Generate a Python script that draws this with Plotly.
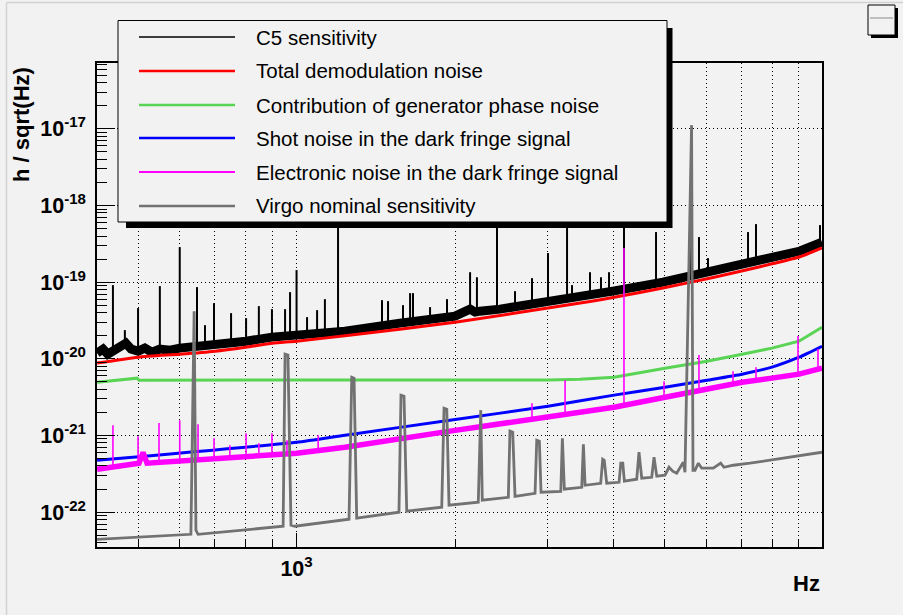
import plotly.graph_objects as go

# ---------------- data ----------------
# C5 sensitivity: centre of the noisy band
c5_f = [418, 429, 438, 448, 462, 474, 485, 500, 515, 531, 550, 575, 600, 628, 656, 700, 802, 898,
        1000, 1236, 1572, 2000, 2136, 2183, 2230, 2434, 3030, 3609, 3990, 4966, 6180, 7172, 8035, 9042, 9954]
c5_h = [1.19e-20, 1.34e-20, 1.15e-20, 1.26e-20, 1.46e-20, 1.60e-20, 1.34e-20, 1.26e-20, 1.38e-20, 1.22e-20,
        1.34e-20, 1.30e-20, 1.38e-20, 1.42e-20, 1.46e-20, 1.51e-20, 1.70e-20, 1.92e-20, 2.04e-20, 2.30e-20,
        2.92e-20, 3.61e-20, 4.45e-20, 4.07e-20, 4.19e-20, 4.45e-20, 5.66e-20, 6.58e-20, 7.64e-20, 1.00e-19,
        1.40e-19, 1.83e-19, 2.12e-19, 2.55e-19, 3.33e-19]
# C5 sensitivity: spectral lines (frequency, band level, top)
c5_line_f = [448, 472, 500, 550, 600, 647, 670, 697, 751, 802, 848, 898, 951, 972, 1000, 1047, 1094, 1132,
             1199, 1453, 1492, 1593, 1643, 1664, 1793, 1931, 2136, 2201, 2403, 2600, 2800, 3003, 3264, 3336,
             3609, 3787, 3922, 4187, 4817, 5589, 5812, 6046, 7203, 7459, 9867]
c5_line_lo = [1.26e-20, 1.46e-20, 1.26e-20, 1.34e-20, 1.38e-20, 1.46e-20, 1.46e-20, 1.51e-20, 1.60e-20,
              1.70e-20, 1.80e-20, 1.92e-20, 2.00e-20, 2.00e-20, 2.04e-20, 2.10e-20, 2.16e-20, 2.23e-20,
              2.30e-20, 2.70e-20, 2.75e-20, 2.92e-20, 3.01e-20, 3.05e-20, 3.30e-20, 3.50e-20, 4.07e-20,
              4.07e-20, 4.45e-20, 4.87e-20, 5.17e-20, 5.50e-20, 6.01e-20, 6.19e-20, 6.58e-20, 7.20e-20,
              7.42e-20, 7.64e-20, 9.72e-20, 1.20e-19, 1.27e-19, 1.35e-19, 1.83e-19, 1.94e-19, 3.20e-19]
c5_line_hi = [9.16e-20, 2.37e-20, 4.59e-20, 8.89e-20, 2.87e-19, 8.63e-20, 2.75e-20, 5.33e-20, 3.95e-20,
              3.40e-20, 4.87e-20, 4.45e-20, 4.45e-20, 7.42e-20, 1.44e-19, 3.50e-20, 4.32e-20, 6.01e-20,
              1.0e-18, 5.83e-20, 5.66e-20, 5.02e-20, 7.20e-20, 7.20e-20, 4.73e-20, 6.01e-20, 1.35e-19,
              1.16e-19, 1.0e-18, 7.64e-20, 1.13e-19, 2.40e-19, 1.0e-18, 9.16e-20, 1.35e-19, 1.16e-19,
              1.35e-19, 1.0e-18, 4.51e-19, 1.50e-18, 3.88e-19, 2.06e-19, 4.51e-19, 5.73e-19, 5.56e-19]

# Total demodulation noise
demod_f = [418, 500, 600, 700, 800, 900, 1000, 1236, 2000, 3609, 3990, 4966, 6180, 7172, 8035, 9042, 9954]
demod_h = [8.8e-21, 1.05e-20, 1.15e-20, 1.26e-20, 1.42e-20, 1.60e-20, 1.70e-20, 2.0e-20, 3.01e-20, 5.6e-20,
           6.3e-20, 8.4e-20, 1.15e-19, 1.45e-19, 1.75e-19, 2.15e-19, 2.8e-19]

# Contribution of generator phase noise
gen_f = [418, 498, 502, 1956, 3000, 3454, 4009, 5010, 6020, 7019, 7999, 9001, 9954]
gen_h = [4.96e-21, 5.60e-21, 5.27e-21, 5.27e-21, 5.30e-21, 5.43e-21, 5.76e-21, 7.56e-21, 9.32e-21, 1.15e-20,
         1.38e-20, 1.70e-20, 2.59e-20]

# Shot noise in the dark fringe signal
shot_f = [418, 1000, 1236, 1956, 3003, 4009, 5010, 6020, 7019, 7999, 9001, 9954]
shot_h = [4.75e-22, 8.17e-22, 1.01e-21, 1.58e-21, 2.41e-21, 3.36e-21, 4.27e-21, 5.27e-21, 6.31e-21,
          7.79e-21, 1.05e-20, 1.46e-20]

# Electronic noise in the dark fringe signal: band centre
elec_f = [418, 462, 502, 511, 520, 1000, 1236, 1956, 3003, 4009, 5010, 6020, 7019, 7999, 9001, 9954]
elec_h = [3.63e-22, 4.0e-22, 4.35e-22, 6.0e-22, 4.35e-22, 5.87e-22, 7.03e-22, 1.14e-21, 1.73e-21,
          2.34e-21, 3.16e-21, 4.02e-21, 4.96e-21, 5.60e-21, 6.31e-21, 7.56e-21]
# Electronic noise: spectral lines (frequency, band level, top)
elec_line_f = [448, 500, 548, 600, 650, 697, 747, 802, 848, 898, 959, 1099, 2800, 3236, 4187, 4988,
               5812, 6745, 7459, 8962, 9781]
elec_line_lo = [3.85e-22, 4.22e-22, 4.48e-22, 4.62e-22, 4.75e-22, 4.90e-22, 5.05e-22, 5.20e-22, 5.36e-22,
                5.53e-22, 5.70e-22, 6.23e-22, 1.63e-21, 1.90e-21, 2.56e-21, 3.16e-21, 3.90e-21, 4.67e-21,
                5.27e-21, 6.31e-21, 7.11e-21]
elec_line_hi = [1.36e-21, 9.78e-22, 1.45e-21, 1.58e-21, 1.40e-21, 9.21e-22, 7.47e-22, 1.07e-21, 7.93e-22,
                1.07e-21, 8.68e-22, 1.01e-21, 2.64e-21, 5.27e-21, 2.79e-19, 5.11e-21, 1.12e-20, 6.90e-21,
                7.79e-21, 1.98e-20, 1.34e-20]

# Virgo nominal sensitivity
virgo_f = [418, 628, 630, 639, 644, 650, 943, 951, 963, 976, 993, 1258, 1273, 1286, 1301, 1565, 1579, 1600,
           1619, 1887, 1906, 1929, 1948, 2214, 2238, 2253, 2525, 2543, 2574, 2600, 2838, 2859, 2892, 2913,
           3176, 3198, 3226, 3481, 3506, 3532, 3782, 3815, 3841, 3882, 4098, 4129, 4165, 4194, 4427, 4471,
           4525, 4727, 4775, 4832, 5010, 5098, 5181, 5272, 5427, 5467, 5627, 5662, 5712, 5796, 5882, 6188,
           6391, 6484, 6753, 7265, 7700, 8405, 9954]
virgo_h = [4.42e-23, 5.14e-23, 5.14e-23, 4.19e-20, 5.80e-23, 5.14e-23, 6.54e-23, 1.15e-20, 1.12e-20, 6.74e-23,
           6.54e-23, 8.07e-23, 5.76e-21, 5.60e-21, 8.32e-23, 9.96e-23, 3.36e-21, 3.26e-21, 1.03e-22, 1.16e-22,
           2.27e-21, 2.20e-21, 1.23e-22, 1.35e-22, 2.14e-21, 1.43e-22, 1.56e-22, 1.14e-21, 1.10e-21, 1.61e-22,
           1.76e-22, 8.68e-22, 8.42e-22, 1.82e-22, 1.87e-22, 9.21e-22, 1.99e-22, 2.11e-22, 7.69e-22, 2.24e-22,
           2.38e-22, 4.90e-22, 4.75e-22, 2.38e-22, 2.45e-22, 4.35e-22, 4.35e-22, 2.53e-22, 2.69e-22, 6.05e-22,
           2.77e-22, 2.85e-22, 5.20e-22, 2.94e-22, 3.03e-22, 3.85e-22, 3.42e-22, 3.22e-22, 4.48e-22, 3.32e-22,
           1.12e-17, 3.52e-22, 3.52e-22, 4.35e-22, 3.74e-22, 3.74e-22, 4.35e-22, 3.85e-22, 4.09e-22, 4.35e-22,
           4.62e-22, 5.05e-22, 6.05e-22]

# axis ticks
x_major = [1000]
x_major_text = ["10<sup>3</sup>"]
x_minor = [500, 600, 700, 800, 900, 2000, 3000, 4000, 5000, 6000, 7000, 8000, 9000]
y_exps = [-22, -21, -20, -19, -18, -17]

legend_names = ["C5 sensitivity", "Total demodulation noise", "Contribution of generator phase noise",
                "Shot noise in the dark fringe signal", "Electronic noise in the dark fringe signal",
                "Virgo nominal sensitivity"]

# ---------------- styles ----------------
C_BLACK = "#000000"
C_RED = "#ff0000"
C_GREEN = "#59d454"
C_BLUE = "#0000ff"
C_MAG = "#ff00ff"
C_GREY = "#727272"
BG = "#f2f2f2"

def segments(fs, lo, hi):
    xs, ys = [], []
    for f, a, b in zip(fs, lo, hi):
        xs += [f, f, None]
        ys += [a, b, None]
    return xs, ys

fig = go.Figure()
sx, sy = segments(c5_line_f, c5_line_lo, c5_line_hi)
fig.add_trace(go.Scatter(x=sx, y=sy, mode="lines", line=dict(color=C_BLACK, width=2), showlegend=False))
fig.add_trace(go.Scatter(x=c5_f, y=c5_h, mode="lines", line=dict(color=C_BLACK, width=9), name=legend_names[0], showlegend=False))
fig.add_trace(go.Scatter(x=demod_f, y=demod_h, mode="lines", line=dict(color=C_RED, width=3, shape="spline", smoothing=0.6), name=legend_names[1], showlegend=False))
fig.add_trace(go.Scatter(x=gen_f, y=gen_h, mode="lines", line=dict(color=C_GREEN, width=3), name=legend_names[2], showlegend=False))
fig.add_trace(go.Scatter(x=shot_f, y=shot_h, mode="lines", line=dict(color=C_BLUE, width=3, shape="spline", smoothing=0.5), name=legend_names[3], showlegend=False))
mx, my = segments(elec_line_f, elec_line_lo, elec_line_hi)
fig.add_trace(go.Scatter(x=mx, y=my, mode="lines", line=dict(color=C_MAG, width=1.6), showlegend=False))
fig.add_trace(go.Scatter(x=elec_f, y=elec_h, mode="lines", line=dict(color=C_MAG, width=5.5), name=legend_names[4], showlegend=False))
fig.add_trace(go.Scatter(x=virgo_f, y=virgo_h, mode="lines", line=dict(color=C_GREY, width=2.8), name=legend_names[5], showlegend=False))

# ---------------- layout geometry (pixels -> paper) ----------------
W, H = 903, 615
L, R, T, B = 97, 822, 63, 547
def px(x):
    return (x - L) / (R - L)
def py(y):
    return (B - y) / (B - T)

shapes = []
annotations = []
# canvas border (light grey)
shapes.append(dict(type="line", xref="paper", yref="paper", x0=px(6.5), x1=px(903), y0=py(2.5), y1=py(2.5),
                   line=dict(color="#d2d2d2", width=1.5), layer="above"))
shapes.append(dict(type="line", xref="paper", yref="paper", x0=px(6.5), x1=px(6.5), y0=py(2.5), y1=py(615),
                   line=dict(color="#d2d2d2", width=1.5), layer="above"))
# legend shadow + box
shapes.append(dict(type="rect", xref="paper", yref="paper", x0=px(126), x1=px(672.5), y0=py(228), y1=py(28),
                   fillcolor="black", line=dict(width=0), layer="above"))
shapes.append(dict(type="rect", xref="paper", yref="paper", x0=px(118), x1=px(667), y0=py(222), y1=py(20.5),
                   fillcolor=BG, line=dict(color="black", width=1), layer="above"))
rows = [37, 71, 105, 138, 172, 206]
sample_styles = [(C_BLACK, 1.4), (C_RED, 2.5), (C_GREEN, 2.5), (C_BLUE, 2.5), (C_MAG, 2), (C_GREY, 2.5)]
for name, r, (col, w) in zip(legend_names, rows, sample_styles):
    shapes.append(dict(type="line", xref="paper", yref="paper", x0=px(139), x1=px(235), y0=py(r), y1=py(r),
                       line=dict(color=col, width=w), layer="above"))
    annotations.append(dict(text=name, xref="paper", yref="paper", x=px(254), y=py(r), xanchor="left",
                            yanchor="middle", showarrow=False,
                            font=dict(family="Liberation Sans, Arial", size=20.5, color="black")))
# small empty box top right
shapes.append(dict(type="rect", xref="paper", yref="paper", x0=px(871), x1=px(898), y0=py(38), y1=py(8),
                   fillcolor="black", line=dict(width=0), layer="above"))
shapes.append(dict(type="rect", xref="paper", yref="paper", x0=px(868), x1=px(895), y0=py(35), y1=py(5),
                   fillcolor=BG, line=dict(color="black", width=1), layer="above"))
shapes.append(dict(type="line", xref="paper", yref="paper", x0=px(870), x1=px(893), y0=py(18), y1=py(18),
                   line=dict(color="#8a8a8a", width=1), layer="above"))

# axis titles
annotations.append(dict(text="h / sqrt(Hz)", xref="paper", yref="paper", x=px(21), y=py(125), textangle=-90,
                        xanchor="center", yanchor="middle", showarrow=False,
                        font=dict(family="Liberation Sans, Arial", size=22, color="black", weight="bold")))
annotations.append(dict(text="Hz", xref="paper", yref="paper", x=1.0, y=py(583), xanchor="right",
                        yanchor="middle", showarrow=False,
                        font=dict(family="Liberation Sans, Arial", size=22, color="black", weight="bold")))

grid_dash = "1px,3px"
tickfont = dict(family="Liberation Sans, Arial", size=21.5, color="black", weight="bold")

y_major = [10.0 ** e for e in y_exps]
y_major_text = ["10<sup>%d</sup>" % e for e in y_exps]
y_minor = [k * 10.0 ** e for e in [-23] + y_exps for k in range(2, 10)]

fig.update_layout(
    width=W, height=H,
    margin=dict(l=L, r=W - R, t=T, b=H - B, pad=0),
    paper_bgcolor=BG, plot_bgcolor=BG,
    showlegend=False,
    font=dict(family="Liberation Sans, Arial", color="black"),
    xaxis=dict(type="log", range=[2.621, 3.998], showline=True, mirror=True, linecolor="black", linewidth=1.5,
               ticks="inside", ticklen=14, tickwidth=1, tickcolor="black",
               tickmode="array", tickvals=x_major, ticktext=x_major_text, tickfont=tickfont,
               ticklabelstandoff=1,
               showgrid=True, gridcolor="black", gridwidth=1, griddash=grid_dash, zeroline=False,
               minor=dict(tickmode="array", tickvals=x_minor, ticks="inside", ticklen=7, tickwidth=1,
                          tickcolor="black", showgrid=True, gridcolor="black", gridwidth=1, griddash=grid_dash)),
    yaxis=dict(type="log", range=[-22.455, -16.14], showline=True, mirror=True, linecolor="black", linewidth=1.5,
               ticks="inside", ticklen=18, tickwidth=1, tickcolor="black",
               tickmode="array", tickvals=y_major, ticktext=y_major_text, tickfont=tickfont,
               ticklabelstandoff=5,
               showgrid=True, gridcolor="black", gridwidth=1, griddash=grid_dash, zeroline=False,
               minor=dict(tickmode="array", tickvals=y_minor, ticks="inside", ticklen=10, tickwidth=1,
                          tickcolor="black", showgrid=False)),
    shapes=shapes,
    annotations=annotations,
)

fig.write_html("out.html")
